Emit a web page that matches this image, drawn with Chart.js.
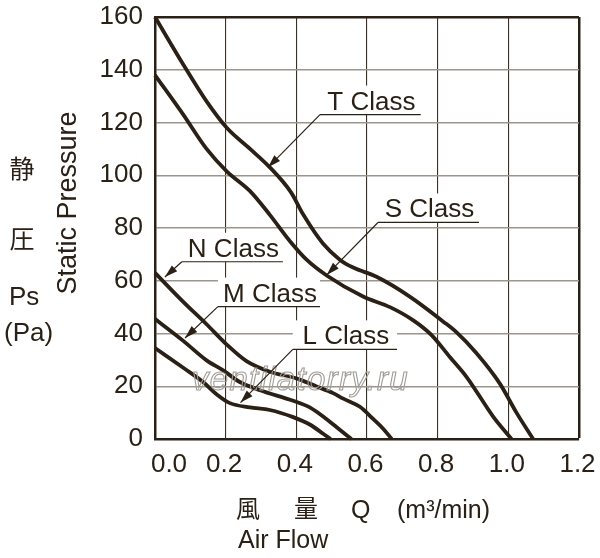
<!DOCTYPE html>
<html><head><meta charset="utf-8">
<script src="https://cdn.jsdelivr.net/npm/chart.js@4.4.1/dist/chart.umd.min.js"></script>
<style>html,body{margin:0;padding:0;background:#fff}#wrap{width:600px;height:558px;position:relative}</style>
</head><body><div id="wrap"><canvas id="c"></canvas></div>
<script>
// ---- data ----
const xTickValues = [0, 0.2, 0.4, 0.6, 0.8, 1.0, 1.2];
const xTickLabels = ['0.0', '0.2', '0.4', '0.6', '0.8', '1.0', '1.2'];
const yTickLabels = ['0', '20', '40', '60', '80', '100', '120', '140', '160'];
const seriesNames = ['T Class', 'S Class', 'N Class', 'M Class', 'L Class'];

const tX = [0, 0.08, 0.146, 0.203, 0.269, 0.325, 0.385, 0.42, 0.476, 0.523, 0.561, 0.627, 0.721, 0.816, 0.853, 0.91, 0.976, 1.023, 1.07];
const tY = [160, 142, 128, 118, 110, 103, 93.5, 85, 74, 68, 65, 61.5, 54, 44.5, 40.5, 32.5, 21, 10, 0];

const sX = [0, 0.08, 0.146, 0.203, 0.269, 0.325, 0.382, 0.429, 0.486, 0.589, 0.665, 0.731, 0.782, 0.835, 0.882, 0.957, 1.009];
const sY = [138, 123, 110, 101.5, 94, 85, 75, 68, 62, 54, 50, 45, 39.5, 31, 23.5, 8.5, 0];

const nX = [0, 0.08, 0.146, 0.203, 0.259, 0.325, 0.4, 0.456, 0.504, 0.533, 0.58, 0.618, 0.645, 0.67];
const nY = [63, 52, 43.5, 35.8, 29.5, 25.5, 23, 20, 17.4, 15.3, 12.2, 7.5, 4, 0];

const mX = [0, 0.08, 0.146, 0.193, 0.24, 0.297, 0.391, 0.438, 0.486, 0.523, 0.556];
const mY = [45.5, 37.2, 29.8, 26, 21.6, 18.5, 14.5, 12, 7.5, 3.5, 0];

const lX = [0, 0.08, 0.137, 0.174, 0.212, 0.269, 0.325, 0.391, 0.438, 0.476, 0.497];
const lY = [34.5, 27, 21.5, 17, 13.6, 12, 11, 8.3, 5.5, 2, 0];

const yTitle = 'Static Pressure';
const yTitleCJK = ['静', '圧'];
const yUnit = ['Ps', '(Pa)'];
const xTitleParts = ['風', '量', 'Q', '(m³/min)'];
const xTitleSub = 'Air Flow';
const watermark = 'ventilatorry.ru';

// ---- annotation placement (value space): underline [x0, x1, y], arrow tip [x, y] ----
const annUnderline = [[0.467, 0.752, 123], [0.631, 0.917, 82.1], [0.076, 0.362, 67.2], [0.178, 0.467, 50.2], [0.390, 0.685, 34.0]];
const annTip = [[0.320, 103], [0.486, 62.2], [0.028, 61.4], [0.085, 38.3], [0.242, 13.8]];

// ---- styles ----
const dark = '#2b2015';
const F = "'Liberation Sans', Arial, Helvetica, sans-serif";
const CJK = "'Noto Sans CJK JP', 'Noto Sans CJK SC', sans-serif";

const pts = (xs, ys) => xs.map((v, i) => ({x: v, y: ys[i]}));
const series = [[tX, tY], [sX, sY], [nX, nY], [mX, mY], [lX, lY]];

const deco = {
  id: 'deco',
  beforeDatasetsDraw(chart) {
    const {ctx, scales: {x, y}} = chart;
    ctx.save();
    ctx.fillStyle = '#fff';
    annUnderline.forEach(a => {
      const x0 = x.getPixelForValue(a[0]), x1 = x.getPixelForValue(a[1]), yy = y.getPixelForValue(a[2]);
      ctx.fillRect(x0, yy - 29, x1 - x0, 29);
    });
    ctx.restore();
  },
  afterDatasetsDraw(chart) {
    const {ctx, scales: {x, y}} = chart;
    ctx.save();
    // watermark (outline only)
    ctx.font = `italic 33px ${F}`;
    try { ctx.letterSpacing = '1.3px'; } catch (e) {}
    ctx.textAlign = 'left'; ctx.textBaseline = 'alphabetic';
    ctx.strokeStyle = '#a19c97'; ctx.lineWidth = 1.1;
    ctx.strokeText(watermark, 192, 390);
    try { ctx.letterSpacing = '0px'; } catch (e) {}
    // class labels
    ctx.font = `26px ${F}`;
    ctx.textAlign = 'center';
    ctx.fillStyle = dark; ctx.strokeStyle = dark;
    annUnderline.forEach((a, i) => {
      const x0 = x.getPixelForValue(a[0]), x1 = x.getPixelForValue(a[1]), yy = y.getPixelForValue(a[2]);
      ctx.fillText(seriesNames[i], (x0 + x1) / 2 + 1, yy - 5);
      ctx.lineWidth = 1.2;
      ctx.beginPath(); ctx.moveTo(x0, yy); ctx.lineTo(x1, yy); ctx.stroke();
      const tx = x.getPixelForValue(annTip[i][0]), ty = y.getPixelForValue(annTip[i][1]);
      ctx.beginPath(); ctx.moveTo(x0, yy); ctx.lineTo(tx, ty); ctx.stroke();
      const ang = Math.atan2(ty - yy, tx - x0), L = 13, W = 4;
      const c = Math.cos(ang), s = Math.sin(ang);
      ctx.beginPath(); ctx.moveTo(tx, ty);
      ctx.lineTo(tx - L * c + W * s, ty - L * s - W * c);
      ctx.lineTo(tx - L * c - W * s, ty - L * s + W * c);
      ctx.closePath(); ctx.fill();
    });
    ctx.restore();
  },
  afterDraw(chart) {
    const {ctx, scales: {x}} = chart;
    ctx.save();
    ctx.fillStyle = dark;
    // x tick labels
    ctx.font = `26px ${F}`;
    ctx.textAlign = 'center'; ctx.textBaseline = 'alphabetic';
    xTickValues.forEach((v, i) => {
      const px = x.getPixelForValue(v) + (i === 0 ? 14 : -1.5);
      ctx.fillText(xTickLabels[i], px, 472);
    });
    // x title
    ctx.textAlign = 'left';
    ctx.font = `24px ${CJK}`;
    ctx.fillText(xTitleParts[0], 236, 517);
    ctx.fillText(xTitleParts[1], 294, 517);
    ctx.font = `25px ${F}`;
    ctx.fillText(xTitleParts[2], 351, 518);
    ctx.fillText(xTitleParts[3], 397, 518);
    ctx.fillText(xTitleSub, 238, 548);
    // left column
    ctx.font = `25px ${CJK}`;
    ctx.textAlign = 'center'; ctx.textBaseline = 'middle';
    ctx.fillText(yTitleCJK[0], 22, 168);
    ctx.fillText(yTitleCJK[1], 22, 238);
    ctx.font = `26px ${F}`;
    ctx.textAlign = 'left'; ctx.textBaseline = 'alphabetic';
    ctx.fillText(yUnit[0], 9, 305);
    ctx.fillText(yUnit[1], 4, 341);
    // y title rotated
    ctx.translate(69, 203);
    ctx.rotate(-Math.PI / 2);
    ctx.font = `27px ${F}`;
    ctx.textAlign = 'center'; ctx.textBaseline = 'middle';
    ctx.fillText(yTitle, 0, 0);
    ctx.restore();
  }
};

new Chart(document.getElementById('c'), {
  type: 'line',
  data: {
    datasets: series.map((s, i) => ({
      label: seriesNames[i],
      data: pts(s[0], s[1]),
      borderColor: dark,
      borderWidth: 3.8,
      pointRadius: 0,
      fill: false,
      cubicInterpolationMode: 'monotone',
      clip: false
    }))
  },
  options: {
    responsive: true,
    maintainAspectRatio: false,
    animation: false,
    events: [],
    layout: {padding: {top: 17, right: 21, left: 0, bottom: 0}},
    plugins: {legend: {display: false}, tooltip: {enabled: false}},
    scales: {
      x: {
        type: 'linear', min: 0, max: 1.2,
        ticks: {display: false, stepSize: 0.2},
        grid: {
          drawTicks: false,
          color: c => (c.index === xTickValues.length - 1 ? dark : '#3a3025'),
          lineWidth: c => (c.index === xTickValues.length - 1 ? 2.5 : 1.1)
        },
        border: {color: dark, width: 2.5},
        afterFit: s => { s.height = 119; s.paddingLeft = 0; s.paddingRight = 0; }
      },
      y: {
        type: 'linear', min: 0, max: 160,
        ticks: {
          stepSize: 20, padding: 12, color: dark,
          font: {family: F, size: 26},
          callback: (v) => yTickLabels[Math.round(v / 20)]
        },
        grid: {
          drawTicks: false,
          color: c => (c.tick && c.tick.value === 160 ? dark : '#9b958b'),
          lineWidth: c => (c.tick && c.tick.value === 160 ? 2.5 : 1.5)
        },
        border: {color: dark, width: 2.5},
        afterFit: s => { s.width = 155; s.paddingTop = 0; s.paddingBottom = 0; }
      }
    }
  },
  plugins: [deco]
});
</script>
</body></html>
